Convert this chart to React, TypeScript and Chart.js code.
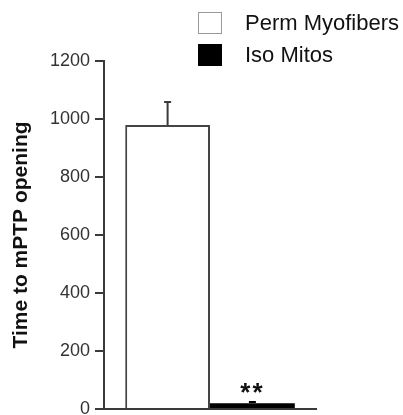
import React, { useEffect, useRef } from "react";
import { Chart, registerables } from "chart.js";

Chart.register(...registerables);

const categories = [""];
const seriesNames = ["Perm Myofibers", "Iso Mitos"];
const seriesValues = [[979], [20]];
const seriesErrors = [[80], [4]];
const seriesFill = ["#ffffff", "#000000"];
const seriesBorder = ["#444444", "#000000"];
const significance = ["", "**"];
const yTitle = "Time to mPTP opening";
const yMin = 0;
const yMax = 1200;
const yStep = 200;

const FONT = "'Liberation Sans', Arial, sans-serif";
const AXIS = "#3a3a3a";

const errorBarPlugin = {
  id: "errorBars",
  afterDatasetsDraw(chart: any) {
    const ctx = chart.ctx;
    const y = chart.scales.y;
    ctx.save();
    chart.data.datasets.forEach((ds: any, di: number) => {
      const meta = chart.getDatasetMeta(di);
      meta.data.forEach((bar: any, i: number) => {
        const v = ds.data[i];
        const e = seriesErrors[di][i];
        const yTop = y.getPixelForValue(v + e);
        const yBar = y.getPixelForValue(v);
        ctx.strokeStyle = di === 0 ? AXIS : "#000";
        ctx.lineWidth = 2;
        ctx.beginPath();
        ctx.moveTo(bar.x, yBar);
        ctx.lineTo(bar.x, yTop);
        ctx.moveTo(bar.x - 3.5, yTop);
        ctx.lineTo(bar.x + 3.5, yTop);
        ctx.stroke();
        const s = significance[di];
        if (s) {
          ctx.fillStyle = "#111";
          ctx.font = `bold 26px ${FONT}`;
          ctx.textAlign = "center";
          ctx.textBaseline = "alphabetic";
          (ctx as any).letterSpacing = "2px";
          ctx.fillText(s, bar.x, yTop - 1);
          (ctx as any).letterSpacing = "0px";
        }
      });
    });
    ctx.restore();
  },
};

const legendPlugin = {
  id: "customLegend",
  afterDraw(chart: any) {
    const ctx = chart.ctx;
    ctx.save();
    const boxX = 198;
    const boxW = 24;
    const boxH = 22;
    const rowY = [12, 44];
    chart.data.datasets.forEach((ds: any, i: number) => {
      const top = rowY[i];
      ctx.fillStyle = ds.backgroundColor;
      ctx.fillRect(boxX, top, boxW, boxH);
      ctx.strokeStyle = i === 0 ? "#999" : "#000";
      ctx.lineWidth = 1;
      ctx.strokeRect(boxX + 0.5, top + 0.5, boxW - 1, boxH - 1);
      ctx.fillStyle = "#111";
      ctx.font = `22px ${FONT}`;
      ctx.textAlign = "left";
      ctx.textBaseline = "middle";
      ctx.fillText(ds.label, 245, top + boxH / 2 + 1);
    });
    ctx.restore();
  },
};

export default function App() {
  const ref = useRef<HTMLCanvasElement>(null);
  useEffect(() => {
    if (!ref.current) return;
    const chart = new Chart(ref.current, {
      type: "bar",
      data: {
        labels: categories,
        datasets: seriesNames.map((name, i) => ({
          label: name,
          data: seriesValues[i],
          backgroundColor: seriesFill[i],
          borderColor: seriesBorder[i],
          borderWidth: i === 0 ? 2 : 0,
          borderSkipped: "bottom",
          categoryPercentage: 0.8,
          barPercentage: 1.0,
        })),
      },
      options: {
        animation: false,
        responsive: false,
        maintainAspectRatio: false,
        layout: { padding: { top: 61, right: 87, bottom: 6, left: 0 } },
        plugins: {
          legend: { display: false },
          tooltip: { enabled: false },
        },
        scales: {
          x: {
            display: true,
            grid: { display: false, drawTicks: false },
            ticks: { display: false },
            border: { display: true, color: AXIS, width: 2 },
            afterFit(scale: any) {
              scale.height = 0;
              scale.paddingLeft = 0;
              scale.paddingRight = 0;
            },
          },
          y: {
            min: yMin,
            max: yMax,
            ticks: {
              stepSize: yStep,
              color: "#333",
              font: { family: FONT, size: 18 },
              padding: 5,
              callback: (v: any) => String(v),
            },
            grid: {
              drawOnChartArea: false,
              drawTicks: true,
              tickLength: 9,
              color: AXIS,
              lineWidth: 2,
            },
            border: { display: true, color: AXIS, width: 2 },
            title: {
              display: true,
              text: yTitle,
              color: "#111",
              font: { family: FONT, size: 21, weight: "bold" },
              padding: { top: 9, bottom: 0 },
            },
            afterFit(scale: any) {
              scale.width = 104;
              scale.paddingTop = 0;
              scale.paddingBottom = 0;
            },
          },
        },
      },
      plugins: [errorBarPlugin, legendPlugin],
    });
    return () => chart.destroy();
  }, []);
  return (
    <div style={{ position: "fixed", left: 0, top: 0, width: 403, height: 415, background: "#fff" }}>
      <canvas ref={ref} width={403} height={415} style={{ width: 403, height: 415, display: "block" }} />
    </div>
  );
}
